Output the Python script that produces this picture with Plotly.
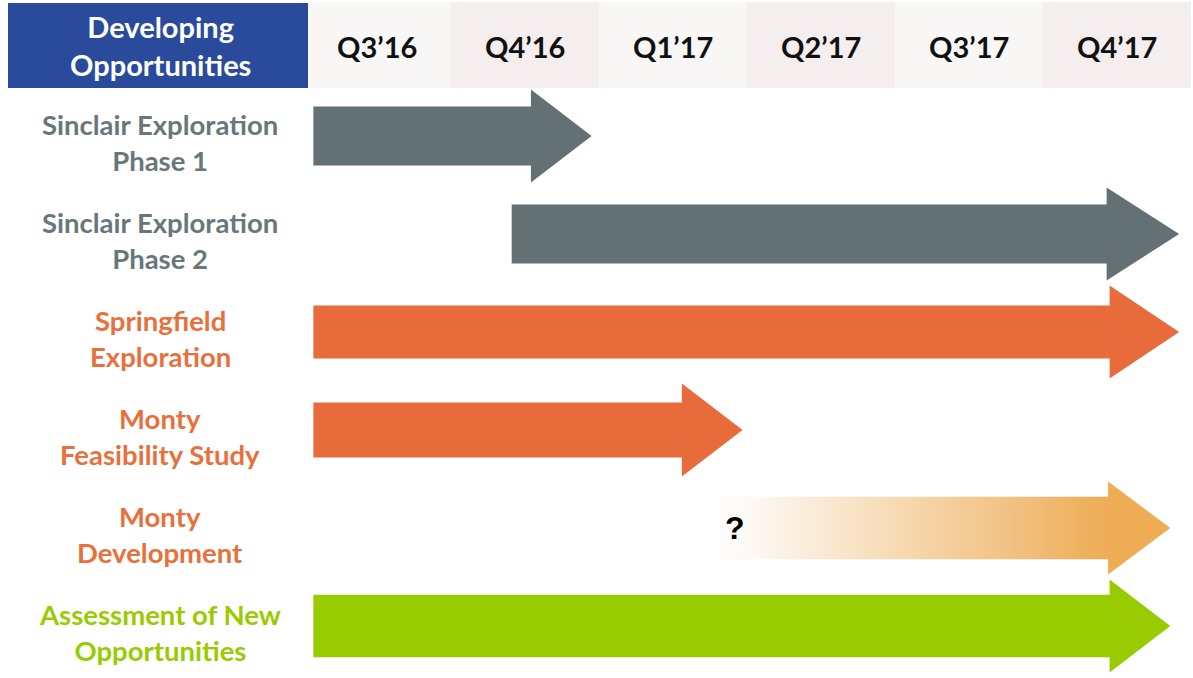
import plotly.graph_objects as go

# ---- data ----
quarters = ["Q3’16", "Q4’16", "Q1’17", "Q2’17", "Q3’17", "Q4’17"]
tasks = [
    "Sinclair Exploration<br>Phase 1",
    "Sinclair Exploration<br>Phase 2",
    "Springfield<br>Exploration",
    "Monty<br>Feasibility Study",
    "Monty<br>Development",
    "Assessment of New<br>Opportunities",
]
# start / end in quarter units (0 = start of Q3'16, 6 = end of Q4'17)
starts = [0.07, 1.41, 0.07, 0.07, 2.82, 0.07]
ends = [1.95, 5.92, 5.92, 2.97, 5.86, 5.86]
uncertain = [False, False, False, False, True, False]
header_title = "Developing<br>Opportunities"

# ---- style ----
GRAY = "#637174"
GRAY_TXT = "#67777a"
ORANGE = "#e86c3b"
ORANGE_TXT = "#e8703c"
GREEN = "#99cc00"
BLUE = "#2a4b9b"
arrow_colors = [GRAY, GRAY, ORANGE, ORANGE, "#eeac55", GREEN]
label_colors = [GRAY_TXT, GRAY_TXT, ORANGE_TXT, ORANGE_TXT, ORANGE_TXT, GREEN]
head_len = [0.41, 0.49, 0.47, 0.41, 0.42, 0.41]
shaft_half = [0.30, 0.30, 0.27, 0.28, 0.32, 0.32]
col_bg = ["#f8f7f6", "#f4eeee"]

W, H = 1193, 678
PX_Q = 148.0
X0PX = 303.0
ROW_PX = 98.0
Y0PX = 136.0
x_range = [-X0PX / PX_Q, (W - X0PX) / PX_Q]
y_range = [(H - Y0PX) / ROW_PX, -Y0PX / ROW_PX]

HH = 0.474  # head half height (rows)

hdr_top = (3 - Y0PX) / ROW_PX
hdr_bot = (88 - Y0PX) / ROW_PX
hdr_mid = (hdr_top + hdr_bot) / 2

fig = go.Figure()

# column header backgrounds
shapes = []
for i, q in enumerate(quarters):
    shapes.append(dict(type="rect", xref="x", yref="y", x0=i, x1=i + 1,
                       y0=hdr_top - 0.01, y1=hdr_bot, fillcolor=col_bg[i % 2],
                       line=dict(width=0), layer="below"))
# title header box
shapes.append(dict(type="rect", xref="x", yref="y", x0=x_range[0] + 8 / PX_Q,
                   x1=x_range[0] + 308 / PX_Q, y0=hdr_top, y1=hdr_bot,
                   fillcolor=BLUE, line=dict(width=0), layer="below"))

annotations = []
for i, q in enumerate(quarters):
    annotations.append(dict(x=i + 0.5, y=hdr_mid, xref="x", yref="y", text=q,
                            showarrow=False, xanchor="center", yanchor="middle",
                            yshift=-1,
                            font=dict(family="Lato", size=29, color="#111111",
                                      weight="bold")))
annotations.append(dict(x=x_range[0] + 160 / PX_Q, y=hdr_mid, xref="x", yref="y",
                        text=header_title, showarrow=False, xanchor="center",
                        yanchor="middle",
                        font=dict(family="Lato", size=29, color="white",
                                  weight="bold")))

for r, (t, s, e) in enumerate(zip(tasks, starts, ends)):
    xb = e - head_len[r]
    sh = shaft_half[r]
    xs = [s, xb, xb, e, xb, xb, s, s]
    ys = [r - sh, r - sh, r - HH, r, r + HH, r + sh, r + sh, r - sh]
    kw = {}
    if uncertain[r]:
        kw["fillgradient"] = dict(
            type="horizontal", start=s - 0.1, stop=xb,
            colorscale=[[0, "#ffffff"], [0.12, "#fdf8f2"], [0.45, "#f7dcb8"],
                        [0.75, "#f2c283"], [1, "#eeac55"]])
    else:
        kw["fillcolor"] = arrow_colors[r]
    fig.add_trace(go.Scatter(x=xs, y=ys, mode="lines", fill="toself",
                             line=dict(width=0, color=arrow_colors[r]),
                             hoverinfo="skip", showlegend=False, **kw))
    annotations.append(dict(x=x_range[0] + 160 / PX_Q, y=r, xref="x", yref="y",
                            text=t, showarrow=False, xanchor="center",
                            yanchor="middle", yshift=-6,
                            font=dict(family="Lato", size=27.5,
                                      color=label_colors[r], weight="bold")))
    if uncertain[r]:
        annotations.append(dict(x=s + 0.1, y=r, xref="x", yref="y", text="?",
                                showarrow=False, xanchor="center",
                                yanchor="middle",
                                font=dict(family="Liberation Sans", size=32,
                                          color="black", weight="bold")))

fig.update_layout(
    width=W, height=H, margin=dict(l=0, r=0, t=0, b=0),
    paper_bgcolor="white", plot_bgcolor="white",
    xaxis=dict(range=x_range, visible=False, fixedrange=True),
    yaxis=dict(range=y_range, visible=False, fixedrange=True),
    shapes=shapes, annotations=annotations, showlegend=False,
)

fig.write_html("out.html", config={"displayModeBar": False})
